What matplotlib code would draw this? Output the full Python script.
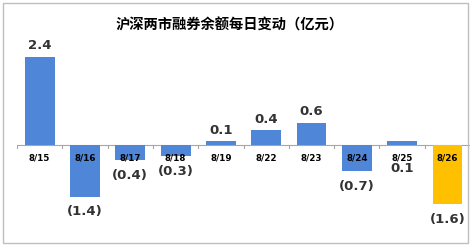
import matplotlib.pyplot as plt
from matplotlib.patches import Rectangle

dates = ['8/15', '8/16', '8/17', '8/18', '8/19', '8/22', '8/23', '8/24', '8/25', '8/26']
values = [2.4, -1.4, -0.4, -0.3, 0.1, 0.4, 0.6, -0.7, 0.1, -1.6]
labels = ['2.4', '(1.4)', '(0.4)', '(0.3)', '0.1', '0.4', '0.6', '(0.7)', '0.1', '(1.6)']
colors = ['#4F86D8'] * 9 + ['#FFC000']

fig = plt.figure(figsize=(4.72, 2.46), dpi=100)
ax = fig.add_axes([0.036, 0.037, 0.96, 0.821])

x = list(range(len(dates)))
ax.bar(x, values, width=0.66, color=colors, zorder=2)
ax.axhline(0, color='#A6A6A6', lw=0.8, zorder=1)
ax.set_xlim(-0.5, len(dates) - 0.5)
ax.set_ylim(-2.5, 3.0)

# small tick marks between categories
for b in range(len(dates) + 1):
    ax.plot([b - 0.5, b - 0.5], [0, -0.08], color='#A6A6A6', lw=0.8, zorder=1)

for i, d in enumerate(dates):
    ax.annotate(d, (i, 0), xytext=(0, -9), textcoords='offset points',
                ha='center', va='center', fontsize=6.3, fontweight='bold',
                color='black', zorder=3)

lab_kw = dict(textcoords='offset points', ha='center', va='center',
              fontsize=9.5, fontweight='bold', color='#333333')
for i, (v, lab) in enumerate(zip(values, labels)):
    if v >= 0 and dates[i] != '8/25':
        ax.annotate(lab, (i, v), xytext=(0, 8), **lab_kw)
    elif v >= 0:
        ax.annotate(lab, (i, 0), xytext=(0, -17), **lab_kw)
    else:
        ax.annotate(lab, (i, v), xytext=(0, -11), **lab_kw)

ax.axis('off')

fig.text(0.487, 0.895, '沪深两市融券余额每日变动（亿元）', ha='center', va='center',
         fontsize=10.3, fontweight='bold', family=['Noto Sans CJK SC', 'DejaVu Sans'])

fig.patches.append(Rectangle((0.006, 0.012), 0.986, 0.975, transform=fig.transFigure,
                             fill=False, edgecolor='#BFBFBF', lw=1))

fig.savefig('out.png', dpi=100)
